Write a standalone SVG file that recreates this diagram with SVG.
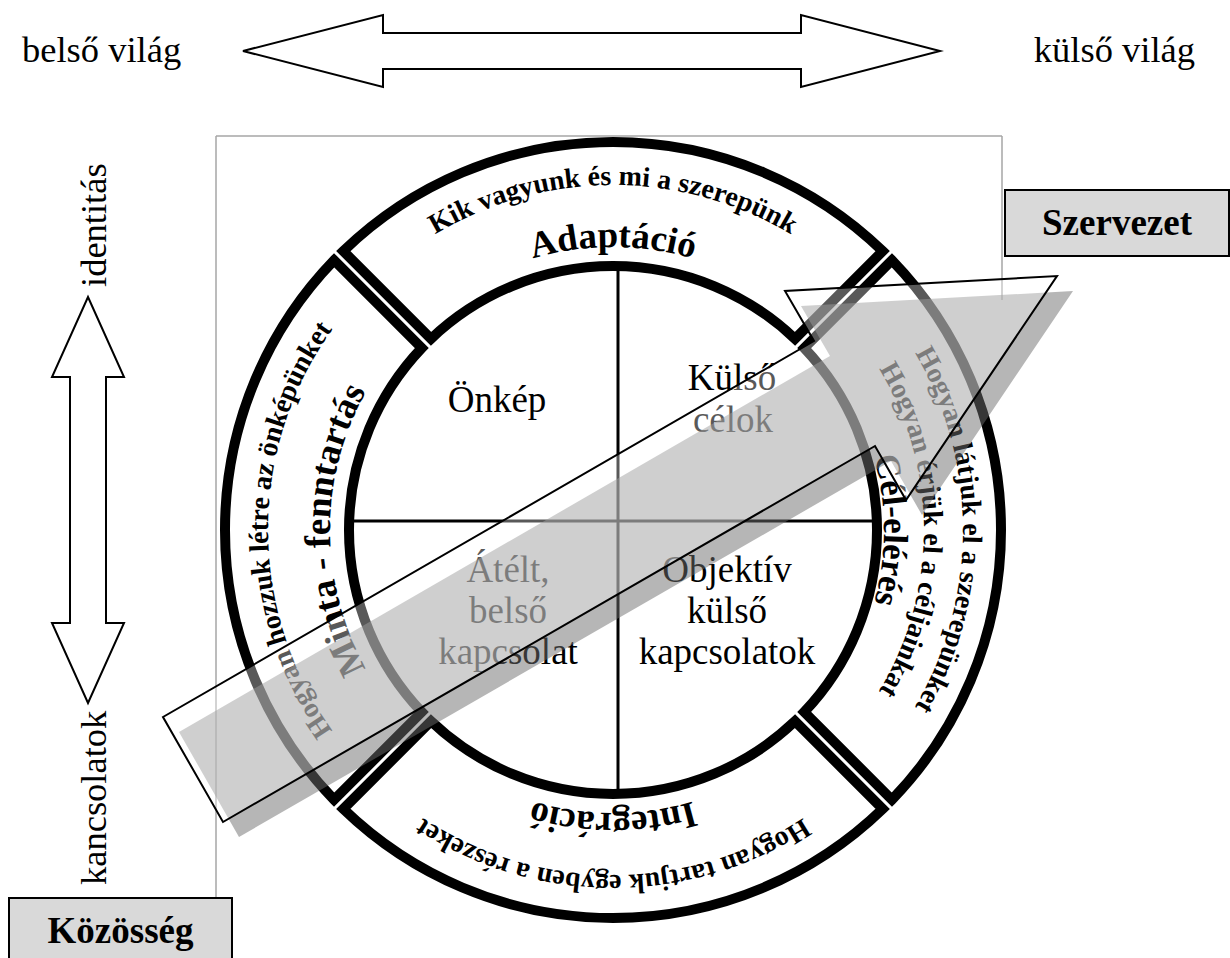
<svg xmlns="http://www.w3.org/2000/svg" width="1230" height="958" viewBox="0 0 1230 958">
<style>
.lbl{font-family:"Liberation Serif","Times New Roman",serif;font-size:36.5px;fill:#000}
.q{font-family:"Liberation Serif","Times New Roman",serif;font-size:37px;fill:#000;text-anchor:middle}
.sub{font-family:"Liberation Serif","Times New Roman",serif;font-size:28px;font-weight:bold;fill:#000}
.ttl{font-family:"Liberation Serif","Times New Roman",serif;font-size:37px;font-weight:bold;fill:#000}
.box{fill:#d9d9d9;stroke:#000;stroke-width:2}
.boxt{font-family:"Liberation Serif","Times New Roman",serif;font-size:37px;font-weight:bold;fill:#000;text-anchor:middle}
.seg{fill:#fff;stroke:#000;stroke-width:10;stroke-linejoin:miter}
.harrow{fill:#fff;stroke:#000;stroke-width:2}
.frame{stroke:#a6a6a6;stroke-width:1.5;fill:none}
.qline{stroke:#000;stroke-width:3}
</style>
<defs>
<path id="pTopSub" d="M 273.24 470.1 A 345 345 0 0 1 952.76 470.1"/>
<path id="pTopTtl" d="M 334.3 480.87 A 283 283 0 0 1 891.7 480.87"/>
<path id="pLeftSub" d="M 553.11 869.76 A 345 345 0 0 1 553.11 190.24"/>
<path id="pLeftTtl" d="M 563.87 808.7 A 283 283 0 0 1 563.87 251.3"/>
<path id="pBotSub" d="M 952.76 589.9 A 345 345 0 0 1 273.24 589.9"/>
<path id="pBotTtl" d="M 891.7 579.13 A 283 283 0 0 1 334.3 579.13"/>
<path id="pRightOut" d="M 673.76 185.32 A 350 350 0 0 1 673.76 874.68"/>
<path id="pRightMid" d="M 666.99 223.73 A 311 311 0 0 1 666.99 836.27"/>
<path id="pRightTtl" d="M 660.05 263.12 A 271 271 0 0 1 660.05 796.88"/>
</defs>
<rect width="1230" height="958" fill="#fff"/>

<g id="frame">
<line class="frame" x1="216" y1="136" x2="1002" y2="136"/>
<line class="frame" x1="216" y1="136" x2="216" y2="898"/>
<line class="frame" x1="1002" y1="136" x2="1002" y2="300"/>
</g>

<g id="label-belso"><text class="lbl" x="22" y="62">belső világ</text></g>
<g id="label-kulso"><text class="lbl" x="1195" y="62" text-anchor="end">külső világ</text></g>
<g id="label-identitas"><text class="lbl" transform="translate(106,287) rotate(-90)">identitás</text></g>
<g id="label-kapcsolatok"><text class="lbl" transform="translate(106,885) rotate(-90)">kancsolatok</text></g>

<g id="seg-adaptacio">
<path class="seg" d="M 343.28 251.08 A 388 388 0 0 1 882.72 251.08 L 795.02 338.78 A 264 264 0 0 0 430.98 338.78 Z"/>
<text class="sub"><textPath href="#pTopSub" startOffset="50%" text-anchor="middle">Kik vagyunk és mi a szerepünk</textPath></text>
<text class="ttl"><textPath href="#pTopTtl" startOffset="50%" text-anchor="middle">Adaptáció</textPath></text>
</g>
<g id="seg-celeleres">
<path class="seg" d="M 891.92 260.28 A 388 388 0 0 1 891.92 799.72 L 804.22 712.02 A 264 264 0 0 0 804.22 347.98 Z"/>
<text class="sub"><textPath href="#pRightOut" startOffset="50%" text-anchor="middle">Hogyan látjuk el a szerepünket</textPath></text>
<text class="sub"><textPath href="#pRightMid" startOffset="50%" text-anchor="middle">Hogyan érjük el a céljainkat</textPath></text>
<text class="ttl" style="font-size:35px"><textPath href="#pRightTtl" startOffset="50%" text-anchor="middle">Cél-elérés</textPath></text>
</g>
<g id="seg-integracio">
<path class="seg" d="M 882.72 808.92 A 388 388 0 0 1 343.28 808.92 L 430.98 721.22 A 264 264 0 0 0 795.02 721.22 Z"/>
<text class="sub"><textPath href="#pBotSub" startOffset="50%" text-anchor="middle">Hogyan tartjuk egyben a részeket</textPath></text>
<text class="ttl"><textPath href="#pBotTtl" startOffset="50%" text-anchor="middle">Integráció</textPath></text>
</g>
<g id="seg-minta">
<path class="seg" d="M 334.08 799.72 A 388 388 0 0 1 334.08 260.28 L 421.78 347.98 A 264 264 0 0 0 421.78 712.02 Z"/>
<text class="sub"><textPath href="#pLeftSub" startOffset="50%" text-anchor="middle">Hogyan hozzuk létre az önképünket</textPath></text>
<text class="ttl"><textPath href="#pLeftTtl" startOffset="50%" text-anchor="middle">Minta - fenntartás</textPath></text>
</g>

<g id="quadrants">
<line class="qline" x1="618" y1="266" x2="618" y2="794"/>
<line class="qline" x1="349" y1="521" x2="877" y2="521"/>
</g>
<g id="q-onkep"><text class="q" x="497" y="412">Önkép</text></g>
<g id="q-kulso-celok"><text class="q" x="732" y="390">Külső</text><text class="q" x="733" y="432">célok</text></g>
<g id="q-atelt"><text class="q" x="508" y="582">Átélt,</text><text class="q" x="508" y="623">belső</text><text class="q" x="508" y="664">kapcsolat</text></g>
<g id="q-objektiv"><text class="q" x="727" y="582">Objektív</text><text class="q" x="727" y="623">külső</text><text class="q" x="727" y="664">kapcsolatok</text></g>

<g id="node-szervezet"><rect class="box" x="1005" y="190" width="224" height="66"/><text class="boxt" x="1117" y="235">Szervezet</text></g>
<g id="node-kozosseg"><rect class="box" x="9" y="898" width="223" height="80"/><text class="boxt" x="120.5" y="943">Közösség</text></g>

<g id="connectors">
<polygon class="harrow" points="243,51 383,15 383,33 801,33 801,15 940,51 801,87 801,69 383,69 383,87"/>
<polygon class="harrow" points="88,297 124,377 106,377 106,623 124,623 88,703 52,623 70,623 70,377 52,377"/>
<polygon fill="#6e6e6e" fill-opacity="0.5" points="163,717 814,341 785,291 1057,276 906,500 875,446 223,822" transform="translate(16,15)"/>
<polygon fill="#fff" fill-opacity="0.35" stroke="#000" stroke-width="2" points="163,717 814,341 785,291 1057,276 906,500 875,446 223,822"/>
</g>
</svg>
